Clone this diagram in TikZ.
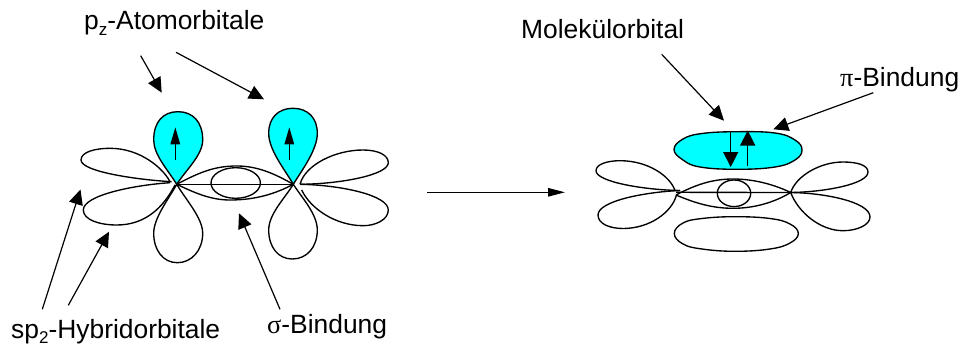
\documentclass[tikz,border=0pt]{standalone}
\usepackage{fontspec}
\setmainfont{Liberation Sans}
\newfontfamily\greekfont{Liberation Serif}
\usetikzlibrary{arrows.meta}
\definecolor{orbitalcyan}{RGB}{0,255,255}
\newcommand{\lowidx}[1]{\raisebox{-0.2em}{\fontsize{17pt}{17pt}\selectfont #1}}
\tikzset{
  x=1pt, y=-1pt,
  every path/.style={line join=round},
  lobe/.style={draw=black, line width=1.35pt},
  filledlobe/.style={lobe, fill=orbitalcyan},
  bondline/.style={draw=black, line width=1.35pt},
  pointer/.style={draw=black, line width=1.2pt, -{Triangle[length=15pt,width=14pt]}},
  spin/.style={draw=black, line width=1.3pt, -{Triangle[length=17pt,width=9.5pt]}},
  spinbig/.style={draw=black, line width=1.4pt, -{Triangle[length=15pt,width=15pt]}},
  reaction/.style={draw=black, line width=1.35pt, -{Triangle[length=17pt,width=8.5pt]}},
  caption/.style={inner sep=0pt, anchor=base west, font=\fontsize{26.4pt}{30pt}\selectfont},
}
\begin{document}
\begin{tikzpicture}
\useasboundingbox (0,0) rectangle (965,350);
\fill[white] (0,0) rectangle (965,350);

% Anchor points of the two carbon centres
\coordinate (cA) at (176.7,184.3);
\coordinate (cB) at (293.3,184.3);
\coordinate (cR) at (790.7,192.5);

% Left molecule: sp2 lobes
\draw[lobe] (171.7,181.7) .. controls (140,180) and (81,172) .. (81,160) .. controls (81,152) and (95,148.3) .. (110,148.3) .. controls (140,148.3) and (163,168) .. (170,181.7);
\draw[lobe] (170,182.7) .. controls (135,185) and (83.3,195) .. (83.3,210) .. controls (83.3,220) and (100,225) .. (116.7,225) .. controls (145,225) and (163,208) .. (175,185);
\draw[lobe] (300,184.3) .. controls (305,165) and (335,150) .. (363,150) .. controls (378,150) and (388.3,155) .. (388.3,162.7) .. controls (388.3,175) and (340,184) .. (300,184.3);
\draw[lobe] (300,184.3) .. controls (340,185) and (388.3,195) .. (388.3,210) .. controls (388.3,220) and (375,225.7) .. (363.3,225.7) .. controls (335,225.7) and (310,208) .. (301.7,190);

% Left molecule: p lobes above (filled) and below
\draw[filledlobe] (cA) .. controls (168,170) and (153.7,155) .. (153.7,140) .. controls (153.7,122) and (163,111.7) .. (178,111.7) .. controls (193,111.7) and (202.7,122) .. (202.7,140) .. controls (202.7,155) and (186,170) .. (cA);
\draw[filledlobe] (cB) .. controls (285,170) and (268.7,150) .. (268.7,133.3) .. controls (268.7,118) and (278,108.3) .. (293,108.3) .. controls (308,108.3) and (317.3,118) .. (317.3,133.3) .. controls (317.3,150) and (302,170) .. (cB);
\draw[lobe] (cA) .. controls (168,200) and (153.7,218) .. (153.7,233.3) .. controls (153.7,250) and (163,262.7) .. (177.3,262.7) .. controls (192,262.7) and (202.7,250) .. (202.7,233.3) .. controls (202.7,218) and (186,200) .. (cA);
\draw[lobe] (cB) .. controls (285,198) and (268.7,214) .. (268.7,230) .. controls (268.7,247) and (278,259) .. (292.3,259) .. controls (307,259) and (317.3,247) .. (317.3,230) .. controls (317.3,214) and (302,198) .. (cB);

% Left molecule: sigma bond
\draw[lobe] (cA) .. controls (200,172) and (215,166) .. (236.7,166) .. controls (258,166) and (275,174) .. (cB);
\draw[lobe] (cA) .. controls (197,194) and (212,200) .. (230,200) .. controls (255,200) and (275,194) .. (cB);
\draw[bondline] (cA) -- (cB);
\draw[lobe] (235.7,183) ellipse [x radius=24.7, y radius=15.3];

% Right molecule: sp2 lobes
\draw[lobe] (680,190.5) .. controls (645,190) and (596,182) .. (596,170.7) .. controls (596,164) and (608,160.7) .. (620,160.7) .. controls (648,160.7) and (670,176) .. (675,190.5);
\draw[lobe] (680,190.5) .. controls (645,192) and (598,201) .. (598,215) .. controls (598,224) and (610,228.5) .. (623,228.5) .. controls (650,228.5) and (672,212) .. (676.5,195);
\draw[lobe] (cR) .. controls (796,176) and (820,162) .. (843,162) .. controls (857,162) and (868,165) .. (868,172) .. controls (868,184) and (825,192) .. (cR);
\draw[lobe] (cR) .. controls (825,193) and (870,202) .. (870,217) .. controls (870,225) and (857,230.7) .. (843,230.7) .. controls (820,230.7) and (798,212) .. (cR);

% Right molecule: sigma bond
\draw[lobe] (676,195) .. controls (695,185) and (712,179) .. (733,179) .. controls (755,179) and (775,185) .. (cR);
\draw[lobe] (676,195) .. controls (695,203) and (712,208.3) .. (733,208.3) .. controls (755,208.3) and (775,202) .. (cR);
\draw[bondline] (676,192.3) -- (cR);
\draw[lobe] (734,193.3) ellipse [x radius=16.7, y radius=13.3];

% Right molecule: pi orbital, filled above and plain below
\draw[filledlobe] plot[smooth cycle,tension=.7] coordinates {(674,149.5) (683,139) (702,133.5) (737,131.7) (775,133) (795,140) (802,150) (795,160) (775,167) (737,169.3) (700,167) (683,160)};
\draw[lobe] plot[smooth cycle,tension=.7] coordinates {(674.3,233.5) (683,223) (702,218.5) (735,216.7) (770,218.5) (790,224) (798.3,233.5) (790,243) (770,249) (735,251.3) (702,249) (683,244)};

% Electron spins
\coordinate (s1a) at (175.3,160); \coordinate (s1b) at (175.3,127.3);
\coordinate (s2a) at (289.3,160); \coordinate (s2b) at (289.3,127.3);
\coordinate (s3a) at (730.7,131.7); \coordinate (s3b) at (730.7,167);
\coordinate (s4a) at (747.7,165.5); \coordinate (s4b) at (747.7,130.5);
\draw[spin] (s1a) -- (s1b);
\draw[spin] (s2a) -- (s2b);
\draw[spinbig] (s3a) -- (s3b);
\draw[spinbig] (s4a) -- (s4b);

% Labels
\node[caption] (pz) at (84,30) {p\lowidx{z}-Atomorbitale};
\node[caption] (mo) at (521,38.3) {Molekülorbital};
\node[caption] (pib) at (840,87) {{\greekfont π}-Bindung};
\node[caption] (sp) at (11,338) {sp\lowidx{2}-Hybridorbitale};
\node[caption] (sig) at (267,333) {{\greekfont σ}-Bindung};

% Pointer start and end points
\coordinate (pzS1) at (140.7,55.7); \coordinate (pzT1) at (161.7,92.7);
\coordinate (pzS2) at (176,52.3);   \coordinate (pzT2) at (264,99.3);
\coordinate (spS1) at (42.3,309.3); \coordinate (spT1) at (80.5,189.5);
\coordinate (spS2) at (68.3,305.3); \coordinate (spT2) at (109,231.7);
\coordinate (sgS) at (280,309.3);   \coordinate (sgT) at (239,213.3);
\coordinate (moS) at (661.7,54.3);  \coordinate (moT) at (724,120.7);
\coordinate (piS) at (873.3,92.7);  \coordinate (piT) at (773.3,129.3);
\coordinate (rxS) at (427.3,192.3); \coordinate (rxT) at (565,192.3);

\draw[pointer] (pzS1) -- (pzT1);
\draw[pointer] (pzS2) -- (pzT2);
\draw[pointer] (spS1) -- (spT1);
\draw[pointer] (spS2) -- (spT2);
\draw[pointer] (sgS) -- (sgT);
\draw[pointer] (moS) -- (moT);
\draw[pointer] (piS) -- (piT);
\draw[reaction] (rxS) -- (rxT);
\end{tikzpicture}
\end{document}
